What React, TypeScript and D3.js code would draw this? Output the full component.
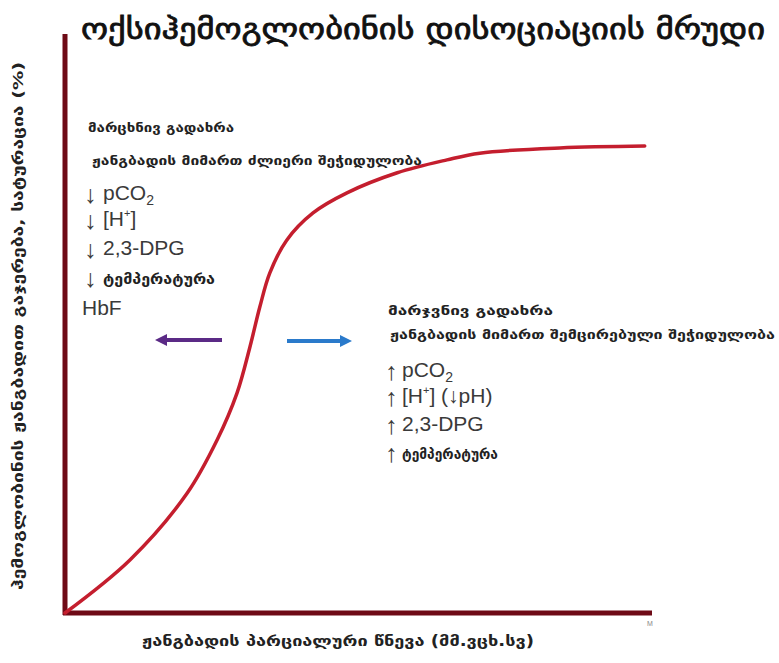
import React from "react";
import * as d3 from "d3";

// ---- data (PO2 in mmHg, saturation in %) ----
const po2 = [0, 11.1, 20.9, 26.0, 29.4, 31.6, 33.3, 35.0, 37.9, 42.4, 48.2, 56.8, 65.3, 70.9, 84.6, 99.1];
const saturation = [0, 11.1, 25.1, 36.2, 46.0, 55.6, 64.0, 71.1, 78.0, 83.7, 87.9, 92.1, 94.8, 96.2, 97.3, 97.7];

const title = "ოქსიჰემოგლობინის დისოციაციის მრუდი";
const xLabel = "ჟანგბადის პარციალური წნევა  (მმ.ვცხ.სვ)";
const yLabel = "ჰემოგლობინის ჟანგბადით გაჯერება, სატურაცია (%)";

const leftHeading = ["მარცხნივ გადახრა", "ჟანგბადის მიმართ ძლიერი შეჭიდულობა"];
const rightHeading = ["მარჯვნივ გადახრა", "ჟანგბადის მიმართ შემცირებული შეჭიდულობა"];
const tempLabel = "ტემპერატურა";

const W = 779;
const H = 663;

const geo = "'DejaVu Sans', sans-serif";
const lat = "'Liberation Sans', Arial, sans-serif";

export default function App() {
  const x = d3.scaleLinear().domain([0, 100]).range([65, 650]);
  const y = d3.scaleLinear().domain([0, 100]).range([613, 135]);
  const pts: [number, number][] = po2.map((p, i) => [p, saturation[i]]);
  const line = d3
    .line<[number, number]>()
    .x((d) => x(d[0]))
    .y((d) => y(d[1]))
    .curve(d3.curveCatmullRom.alpha(0.5));

  const axisColor = "#6e0a16";
  const curveColor = "#c41e2e";
  const txt = "#222";

  const latinStyle = { fontFamily: lat, fontSize: 21, fill: "#3a3a3a" } as const;
  const arrowStyle = { fontFamily: lat, fontSize: 25, fill: "#3a3a3a" } as const;
  const geoSmall = { fontFamily: geo, fontSize: 12, fill: txt, fontWeight: 700 } as const;

  const leftRows = [
    { y: 200, arrow: "↓" },
    { y: 226, arrow: "↓" },
    { y: 255, arrow: "↓" },
    { y: 284, arrow: "↓" },
  ];
  const rightRows = [
    { y: 377, arrow: "↑" },
    { y: 403, arrow: "↑" },
    { y: 431, arrow: "↑" },
    { y: 459, arrow: "↑" },
  ];

  return (
    <svg width={W} height={H} style={{ position: "absolute", left: 0, top: 0, background: "#fff" }}>
      <rect x={0} y={0} width={W} height={H} fill="#fff" />
      {/* title */}
      <text
        x={81}
        y={39}
        style={{ fontFamily: geo, fontSize: 29, fill: "#111" }}
        stroke="#111"
        strokeWidth={0.8}
        textLength={684}
        lengthAdjust="spacingAndGlyphs"
      >
        {title}
      </text>

      {/* axes */}
      <line x1={x(0)} y1={34} x2={x(0)} y2={615} stroke={axisColor} strokeWidth={5} />
      <line x1={x(0) - 2} y1={613} x2={x(100) + 2} y2={613} stroke={axisColor} strokeWidth={5} />
      <text x={647} y={626} style={{ fontFamily: lat, fontSize: 7, fill: "#888" }}>M</text>

      {/* curve */}
      <path d={line(pts) || ""} fill="none" stroke={curveColor} strokeWidth={3.5} strokeLinecap="round" />

      {/* axis labels */}
      <text x={142} y={646} style={{ fontFamily: geo, fontSize: 15, fill: txt, fontWeight: 700 }} textLength={392} lengthAdjust="spacingAndGlyphs">
        {xLabel}
      </text>
      <text
        transform="translate(23,590) rotate(-90)"
        x={0}
        y={0}
        style={{ fontFamily: geo, fontSize: 14, fill: txt, fontWeight: 700 }}
        textLength={528}
        lengthAdjust="spacingAndGlyphs"
      >
        {yLabel}
      </text>

      {/* left block */}
      <text x={88} y={132} style={geoSmall} textLength={146} lengthAdjust="spacingAndGlyphs">{leftHeading[0]}</text>
      <text x={92} y={165} style={geoSmall} textLength={330} lengthAdjust="spacingAndGlyphs">{leftHeading[1]}</text>
      {leftRows.map((r, i) => (
        <text key={"la" + i} x={84} y={r.y + 3} style={arrowStyle}>{r.arrow}</text>
      ))}
      <text x={103} y={leftRows[0].y} style={latinStyle}>pCO<tspan fontSize={14} dy={5}>2</tspan></text>
      <text x={103} y={leftRows[1].y} style={latinStyle}>[H<tspan fontSize={11} dy={-9}>+</tspan><tspan dy={9}>]</tspan></text>
      <text x={103} y={leftRows[2].y} style={latinStyle}>2,3-DPG</text>
      <text x={103} y={leftRows[3].y} style={{ fontFamily: geo, fontSize: 14, fontWeight: 700, fill: txt }} textLength={112} lengthAdjust="spacingAndGlyphs">{tempLabel}</text>
      <text x={82} y={315} style={latinStyle}>HbF</text>

      {/* arrows */}
      <line x1={222} y1={340} x2={164} y2={340} stroke="#5b2a86" strokeWidth={4} />
      <path d="M155,340 L167,334 L167,346 Z" fill="#5b2a86" />
      <line x1={287} y1={341} x2={343} y2={341} stroke="#2a7acb" strokeWidth={4} />
      <path d="M352,341 L340,335 L340,347 Z" fill="#2a7acb" />

      {/* right block */}
      <text x={388} y={315} style={geoSmall} textLength={165} lengthAdjust="spacingAndGlyphs">{rightHeading[0]}</text>
      <text x={390} y={339} style={geoSmall} textLength={385} lengthAdjust="spacingAndGlyphs">{rightHeading[1]}</text>
      {rightRows.map((r, i) => (
        <text key={"ra" + i} x={385} y={r.y + 3} style={arrowStyle}>{r.arrow}</text>
      ))}
      <text x={402} y={rightRows[0].y} style={latinStyle}>pCO<tspan fontSize={14} dy={5}>2</tspan></text>
      <text x={402} y={rightRows[1].y} style={latinStyle}>[H<tspan fontSize={11} dy={-9}>+</tspan><tspan dy={9}>] (↓pH)</tspan></text>
      <text x={402} y={rightRows[2].y} style={latinStyle}>2,3-DPG</text>
      <text x={402} y={rightRows[3].y} style={{ fontFamily: geo, fontSize: 14, fontWeight: 700, fill: txt }} textLength={96} lengthAdjust="spacingAndGlyphs">{tempLabel}</text>
    </svg>
  );
}
